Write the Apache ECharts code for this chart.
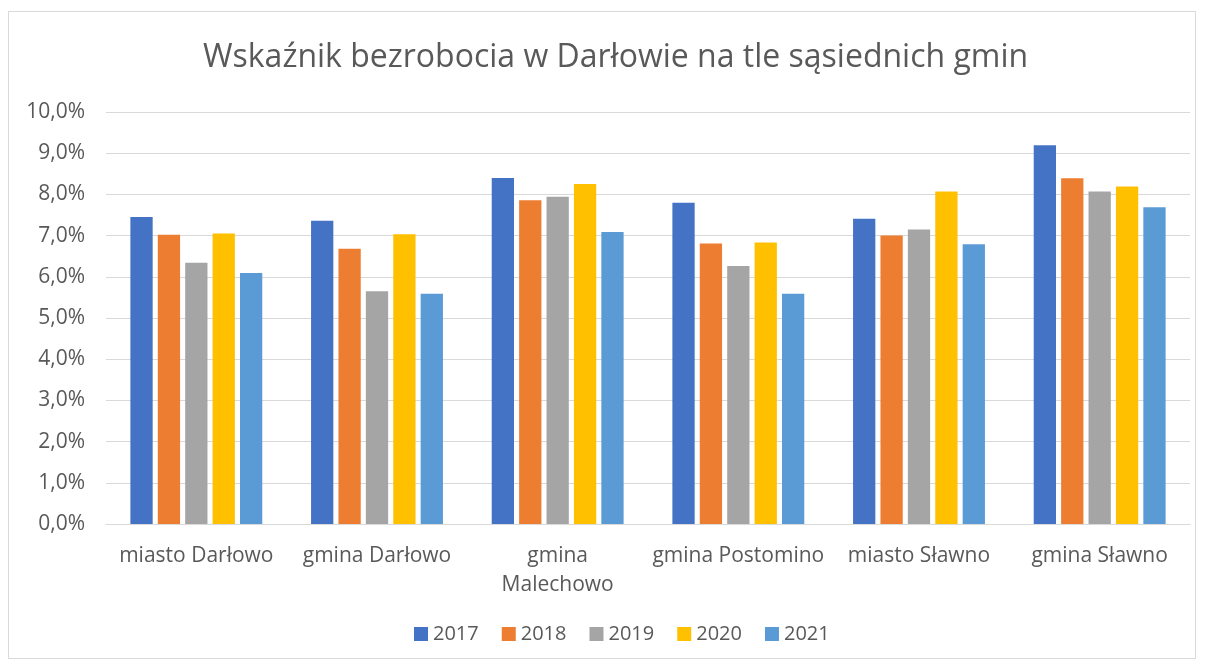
<!DOCTYPE html>
<html>
<head>
<meta charset="utf-8">
<script src="https://cdn.jsdelivr.net/npm/echarts@6/dist/echarts.min.js"></script>
<style>
    html, body { margin: 0; padding: 0; background: #fff; }
    #frame { position: absolute; left: 8px; top: 11px; width: 1188px; height: 648px; border: 1px solid #d9d9d9; box-sizing: border-box; }
    #main { position: absolute; left: 0; top: 0; width: 1208px; height: 669px; }
</style>
</head>
<body>
<div id="frame"></div>
<div id="main"></div>
<script type="text/javascript">
    // dane (w procentach)
    var categories = ['miasto Darłowo', 'gmina Darłowo', 'gmina\nMalechowo', 'gmina Postomino', 'miasto Sławno', 'gmina Sławno'];
    var years = ['2017', '2018', '2019', '2020', '2021'];
    var v2017 = [7.45, 7.36, 8.40, 7.80, 7.41, 9.19];
    var v2018 = [7.02, 6.68, 7.86, 6.81, 7.00, 8.39];
    var v2019 = [6.34, 5.65, 7.94, 6.26, 7.15, 8.07];
    var v2020 = [7.05, 7.03, 8.25, 6.83, 8.07, 8.19];
    var v2021 = [6.09, 5.59, 7.09, 5.59, 6.79, 7.69];
    var colors = ['#4472c4', '#ed7d31', '#a5a5a5', '#ffc000', '#5b9bd5'];

    var values = [v2017, v2018, v2019, v2020, v2021];
    var textColor = '#595959';
    var font = 'Open Sans';

    var myChart = echarts.init(document.getElementById('main'));
    myChart.setOption({
        animation: false,
        color: colors,
        title: {
            text: 'Wskaźnik bezrobocia w Darłowie na tle sąsiednich gmin',
            left: 198,
            top: 37,
            textStyle: { color: textColor, fontFamily: font, fontSize: 32, fontWeight: 'normal' }
        },
        legend: {
            data: years,
            bottom: 20,
            left: 409,
            itemWidth: 14,
            itemHeight: 14,
            itemGap: 23,
            icon: 'rect',
            textStyle: { color: textColor, fontFamily: font, fontSize: 20 }
        },
        grid: { left: 106, right: 18, top: 112, bottom: 145, containLabel: false },
        xAxis: {
            type: 'category',
            data: categories,
            axisLine: { lineStyle: { color: '#d9d9d9' } },
            axisTick: { show: false },
            axisLabel: { color: textColor, fontFamily: font, fontSize: 21, margin: 18, lineHeight: 29, interval: 0 }
        },
        yAxis: {
            type: 'value',
            min: 0,
            max: 10,
            interval: 1,
            axisLine: { show: false },
            axisTick: { show: false },
            splitLine: { lineStyle: { color: '#d9d9d9', width: 1 } },
            axisLabel: {
                color: textColor, fontFamily: font, fontSize: 21, margin: 21,
                formatter: function (v) { return v.toFixed(1).replace('.', ',') + '%'; }
            }
        },
        series: years.map(function (y, i) {
            return {
                name: y,
                type: 'bar',
                data: values[i],
                barGap: '23%',
                barCategoryGap: '27%'
            };
        })
    });
</script>
</body>
</html>
